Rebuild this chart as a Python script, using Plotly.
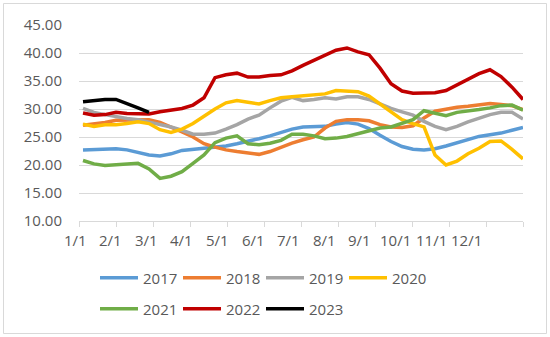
import plotly.graph_objects as go

# ---- data (weekly-ish samples across the year) ----
idx = list(range(41))
month_labels = ["1/1", "2/1", "3/1", "4/1", "5/1", "6/1", "7/1", "8/1", "9/1", "10/1", "11/1", "12/1"]
years = ["2017", "2018", "2019", "2020", "2021", "2022", "2023"]

v2017 = [22.7, 22.8, 22.9, 22.9, 22.7, 22.3, 21.8, 21.6, 22.0, 22.6, 22.8, 22.9, 23.1, 23.4,
         23.8, 24.2, 24.7, 25.2, 25.8, 26.4, 26.8, 26.8, 26.9, 27.3, 27.6, 27.3, 26.5, 25.3,
         24.2, 23.3, 22.8, 22.7, 22.9, 23.4, 24.0, 24.6, 25.1, 25.4, 25.7, 26.2, 26.7]
v2018 = [27.1, 27.3, 27.6, 28.0, 28.0, 28.1, 28.1, 27.6, 26.8, 25.9, 25.0, 23.8, 23.2, 22.7,
         22.4, 22.1, 21.9, 22.4, 23.2, 23.9, 24.5, 25.0, 26.6, 27.8, 28.1, 28.1, 27.9, 27.2,
         26.8, 26.7, 27.0, 28.4, 29.6, 30.0, 30.3, 30.5, 30.7, 31.0, 30.8, 30.6, 29.9]
v2019 = [30.1, 29.4, 29.0, 28.6, 28.3, 28.1, 27.7, 27.2, 26.8, 26.2, 25.5, 25.5, 25.7, 26.4,
         27.2, 28.2, 28.9, 30.2, 31.4, 32.1, 31.5, 31.7, 32.0, 31.8, 32.2, 32.2, 31.7, 30.9,
         30.1, 29.5, 28.9, 27.8, 26.9, 26.3, 26.9, 27.7, 28.4, 29.0, 29.4, 29.4, 28.2]
v2020 = [27.3, 26.9, 27.2, 27.2, 27.4, 27.7, 27.4, 26.3, 25.8, 26.4, 27.4, 28.7, 30.0, 31.1,
         31.5, 31.2, 30.9, 31.5, 32.0, 32.2, 32.4, 32.5, 32.7, 33.3, 33.2, 33.1, 32.3, 30.9,
         29.5, 28.1, 27.4, 26.8, 21.8, 20.0, 20.7, 22.0, 23.0, 24.2, 24.3, 22.8, 21.1]
v2021 = [20.8, 20.2, 19.9, 20.0, 20.2, 20.3, 19.3, 17.6, 18.0, 18.8, 20.3, 21.8, 24.0, 24.8,
         25.2, 23.8, 23.6, 23.9, 24.4, 25.5, 25.5, 25.2, 24.7, 24.8, 25.1, 25.6, 26.2, 26.6,
         26.8, 27.4, 28.1, 29.7, 29.2, 28.8, 29.4, 29.6, 29.9, 30.2, 30.6, 30.7, 29.8]
v2022 = [29.3, 28.9, 29.0, 29.4, 29.2, 29.1, 29.1, 29.5, 29.8, 30.1, 30.7, 32.0, 35.6, 36.1,
         36.4, 35.7, 35.7, 36.0, 36.1, 36.8, 37.8, 38.7, 39.6, 40.5, 40.9, 40.2, 39.7, 37.3,
         34.5, 33.2, 32.8, 32.8, 32.9, 33.3, 34.3, 35.4, 36.3, 37.0, 35.8, 33.9, 31.7]
v2023 = [31.3, 31.5, 31.7, 31.7, 31.0, 30.2, 29.4]

series = [v2017, v2018, v2019, v2020, v2021, v2022, v2023]
colors = ["#5B9BD5", "#ED7D31", "#A5A5A5", "#FFC000", "#70AD47", "#C00000", "#000000"]

FONT = "Open Sans"
TXT = "#595959"
GRID = "#D9D9D9"

fig = go.Figure()
for i, (name, vals, col) in enumerate(zip(years, series, colors)):
    fig.add_trace(go.Scatter(
        x=idx[:len(vals)], y=vals, name=name, mode="lines",
        line=dict(color=col, width=3.5),
        legend="legend" if i < 4 else "legend2",
    ))

# pixel helpers (plot area: x 79..523, y 25..221)
L, R, T, B = 79, 27, 25, 116
W = 550 - L - R
H = 337 - T - B
px_per_idx = 11.0
x0_idx = (L - 83) / px_per_idx


def px2idx(px):
    return (px - 83) / px_per_idx


def px2paper_x(px):
    return (px - L) / W


def py2paper_y(py):
    return (T + H - py) / H


month_ticks = [px2idx(L + 37 * m) for m in range(13)]

annotations = []
for j, lab in enumerate(month_labels):
    annotations.append(dict(
        x=px2paper_x(75 + 35.6 * j), y=0, xref="paper", yref="paper",
        text=lab, showarrow=False, xanchor="center", yanchor="middle",
        yshift=-19, font=dict(family=FONT, size=15, color=TXT)))

legend_common = dict(orientation="h", x=px2paper_x(95), xanchor="left",
                     yanchor="middle", entrywidth=30, entrywidthmode="pixels",
                     itemwidth=38, font=dict(family=FONT, size=15, color=TXT),
                     bgcolor="rgba(0,0,0,0)")

fig.update_layout(
    width=550, height=337,
    margin=dict(l=L, r=R, t=T, b=B),
    paper_bgcolor="white", plot_bgcolor="white",
    font=dict(family=FONT, size=15, color=TXT),
    xaxis=dict(range=[x0_idx, 40], tickvals=month_ticks, ticktext=[""] * 13,
               ticks="outside", ticklen=5, tickcolor=GRID, tickwidth=1,
               showline=True, linecolor=GRID, linewidth=1,
               showgrid=False, zeroline=False, fixedrange=True),
    yaxis=dict(range=[10, 45], dtick=5, tick0=10, tickformat=".2f",
               showgrid=True, gridcolor=GRID, gridwidth=1,
               zeroline=False, showline=False, ticks="",
               ticklabelstandoff=16,
               tickfont=dict(family=FONT, size=15, color=TXT)),
    showlegend=True,
    legend=dict(y=py2paper_y(278), **legend_common),
    legend2=dict(y=py2paper_y(309), **legend_common),
    annotations=annotations,
    shapes=[dict(type="rect", xref="paper", yref="paper",
                 x0=px2paper_x(3.5), x1=px2paper_x(546.5),
                 y0=py2paper_y(333.5), y1=py2paper_y(3.5),
                 line=dict(color=GRID, width=1), fillcolor="rgba(0,0,0,0)",
                 layer="below")],
)

fig.write_html("out.html")
